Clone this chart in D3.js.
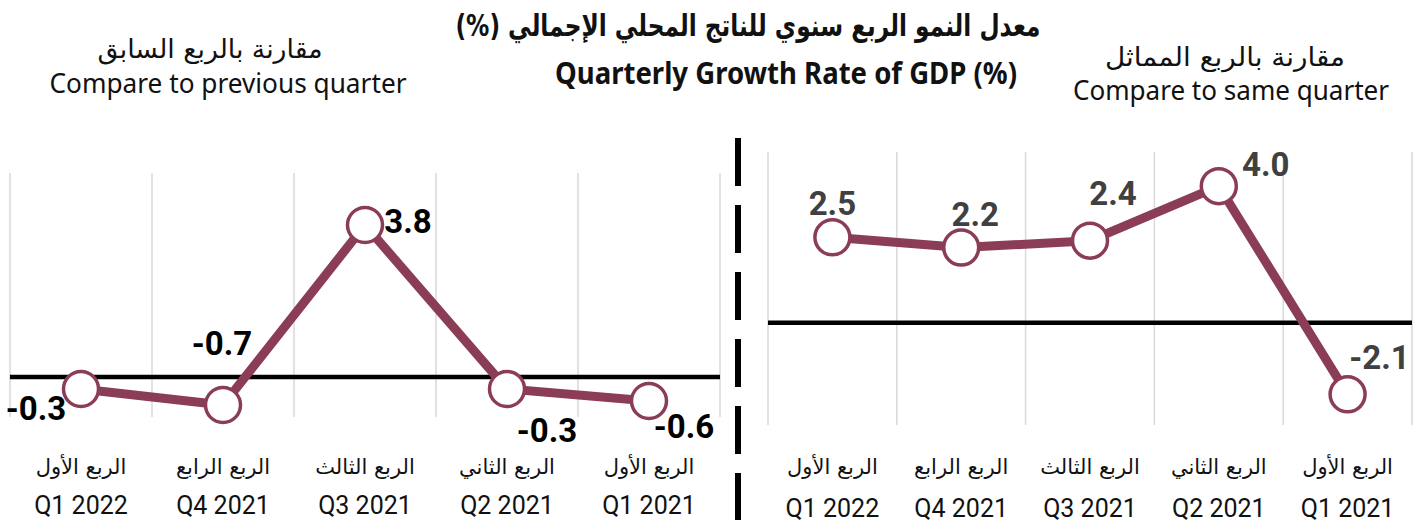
<!DOCTYPE html>
<html>
<head>
<meta charset="utf-8">
<script src="https://cdn.jsdelivr.net/npm/d3@7"></script>
<style>
  html, body { margin: 0; padding: 0; background: #fff; }
  svg { display: block; }
</style>
</head>
<body>
<svg id="chart" width="1419" height="526"></svg>
<script>
// ---- data ----
const categoriesEn = ["Q1 2022", "Q4 2021", "Q3 2021", "Q2 2021", "Q1 2021"];
const categoriesAr = ["الربع الأول", "الربع الرابع", "الربع الثالث", "الربع الثاني", "الربع الأول"];
const prevQuarterValues = [-0.3, -0.7, 3.8, -0.3, -0.6];
const sameQuarterValues = [2.5, 2.2, 2.4, 4.0, -2.1];
const titleAr = "معدل النمو الربع سنوي للناتج المحلي الإجمالي (%)";
const titleEn = "Quarterly Growth Rate of GDP (%)";
const leftSubAr = "مقارنة بالربع السابق";
const leftSubEn = "Compare to previous quarter";
const rightSubAr = "مقارنة بالربع المماثل";
const rightSubEn = "Compare to same quarter";

// ---- layout (label offsets relative to the point) ----
const leftLabelOffsets = [[-45, 19], [-1, -62], [43, -4], [40, 41], [35, 25]];
const rightLabelOffsets = [[0, -34], [14, -33], [23, -47], [47, -22], [32, -37]];

const lineColor = "#8B3D56";
const svg = d3.select("#chart");

function panel(cfg) {
  const x = d3.scaleBand().domain(d3.range(categoriesEn.length)).range(cfg.xRange).padding(0);
  const y = d3.scaleLinear().domain(cfg.yDomain).range(cfg.yRange);
  const g = svg.append("g");

  const edges = d3.range(categoriesEn.length + 1).map(i => cfg.xRange[0] + i * x.step());
  g.selectAll("line.grid").data(edges).join("line")
    .attr("x1", d => d).attr("x2", d => d)
    .attr("y1", cfg.yRange[1]).attr("y2", cfg.yRange[0])
    .attr("stroke", "#d9d9d9").attr("stroke-width", 1.5);

  g.append("line")
    .attr("x1", cfg.xRange[0]).attr("x2", cfg.xRange[1])
    .attr("y1", y(0)).attr("y2", y(0))
    .attr("stroke", "#000").attr("stroke-width", 4.5);

  const cx = i => x(i) + x.bandwidth() / 2;

  g.append("path")
    .datum(cfg.values)
    .attr("d", d3.line().x((d, i) => cx(i)).y(d => y(d)))
    .attr("fill", "none").attr("stroke", lineColor).attr("stroke-width", 9)
    .attr("stroke-linejoin", "round");

  g.selectAll("circle").data(cfg.values).join("circle")
    .attr("cx", (d, i) => cx(i)).attr("cy", d => y(d)).attr("r", 17.5)
    .attr("fill", "#fff").attr("stroke", lineColor).attr("stroke-width", 3.5);

  g.selectAll("text.val").data(cfg.values).join("text")
    .attr("class", "val")
    .attr("x", (d, i) => cx(i) + cfg.offsets[i][0])
    .attr("y", (d, i) => y(d) + cfg.offsets[i][1])
    .attr("text-anchor", "middle").attr("dominant-baseline", "central")
    .attr("font-family", "Roboto, sans-serif")
    .attr("font-weight", "bold").attr("font-size", 33)
    .attr("fill", cfg.labelColor)
    .text(d => d.toFixed(1));

  g.selectAll("text.catAr").data(categoriesAr).join("text")
    .attr("x", (d, i) => cx(i)).attr("y", cfg.catArY)
    .attr("text-anchor", "middle").attr("direction", "rtl")
    .attr("font-family", "'DejaVu Sans', sans-serif").attr("font-size", 21)
    .attr("fill", "#111")
    .text(d => d);
  g.selectAll("text.catEn").data(categoriesEn).join("text")
    .attr("x", (d, i) => cx(i)).attr("y", cfg.catEnY)
    .attr("text-anchor", "middle")
    .attr("font-family", "Roboto, sans-serif").attr("font-size", 25)
    .attr("fill", "#111")
    .text(d => d);
}

panel({
  values: prevQuarterValues,
  xRange: [10, 720],
  yDomain: [-1.0, 5.1],
  yRange: [417, 173],
  offsets: leftLabelOffsets,
  labelColor: "#000",
  catArY: 474, catEnY: 514
});

panel({
  values: sameQuarterValues,
  xRange: [768, 1412],
  yDomain: [-3, 5],
  yRange: [425, 152],
  offsets: rightLabelOffsets,
  labelColor: "#404040",
  catArY: 474, catEnY: 517
});

svg.append("line")
  .attr("x1", 738).attr("x2", 738).attr("y1", 138).attr("y2", 520)
  .attr("stroke", "#000").attr("stroke-width", 6)
  .attr("stroke-dasharray", "48,19");

svg.append("text").attr("x", 748).attr("y", 36)
  .attr("text-anchor", "middle").attr("direction", "rtl")
  .attr("font-family", "'DejaVu Sans', sans-serif").attr("font-weight", "bold")
  .attr("font-size", 30).attr("textLength", 585).attr("lengthAdjust", "spacingAndGlyphs")
  .attr("fill", "#111").text(titleAr);
svg.append("text").attr("x", 786).attr("y", 84)
  .attr("text-anchor", "middle")
  .attr("font-family", "'Noto Sans', sans-serif").attr("font-weight", "bold")
  .attr("font-size", 31).attr("textLength", 462).attr("lengthAdjust", "spacingAndGlyphs")
  .attr("fill", "#111").text(titleEn);

svg.append("text").attr("x", 210).attr("y", 58)
  .attr("text-anchor", "middle").attr("direction", "rtl")
  .attr("font-family", "'DejaVu Sans', sans-serif")
  .attr("font-size", 26).attr("textLength", 225).attr("lengthAdjust", "spacingAndGlyphs")
  .attr("fill", "#111").text(leftSubAr);
svg.append("text").attr("x", 228).attr("y", 93)
  .attr("text-anchor", "middle")
  .attr("font-family", "'Noto Sans', sans-serif")
  .attr("font-size", 27).attr("textLength", 357).attr("lengthAdjust", "spacingAndGlyphs")
  .attr("fill", "#111").text(leftSubEn);
svg.append("text").attr("x", 1225).attr("y", 66)
  .attr("text-anchor", "middle").attr("direction", "rtl")
  .attr("font-family", "'DejaVu Sans', sans-serif")
  .attr("font-size", 26).attr("textLength", 240).attr("lengthAdjust", "spacingAndGlyphs")
  .attr("fill", "#111").text(rightSubAr);
svg.append("text").attr("x", 1231).attr("y", 100)
  .attr("text-anchor", "middle")
  .attr("font-family", "'Noto Sans', sans-serif")
  .attr("font-size", 27).attr("textLength", 316).attr("lengthAdjust", "spacingAndGlyphs")
  .attr("fill", "#111").text(rightSubEn);
</script>
</body>
</html>
